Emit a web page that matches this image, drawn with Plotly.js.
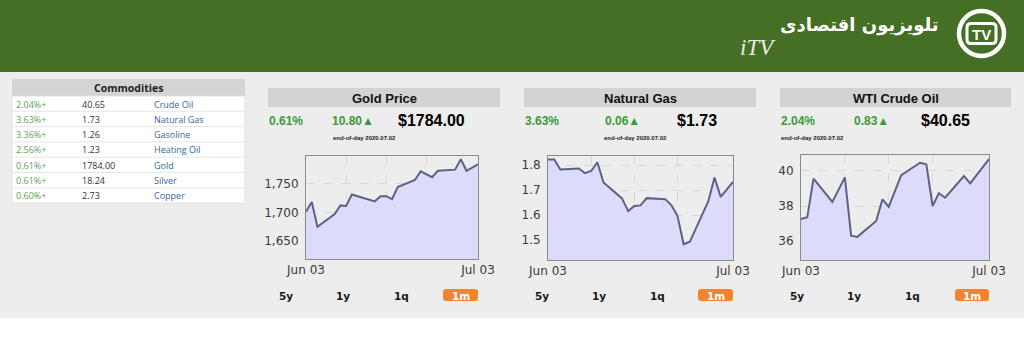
<!DOCTYPE html>
<html><head><meta charset="utf-8">
<script src="https://cdn.plot.ly/plotly-3.0.1.min.js"></script>
<style>html,body{margin:0;padding:0;background:#fff;}#chart{width:1024px;height:353px;}</style>
</head><body><div id="chart"></div>
<script>
// ---------- data ----------
const commodityChanges = ['2.04%+','3.63%+','3.36%+','2.56%+','0.61%+','0.61%+','0.60%+'];
const commodityPrices = ['40.65','1.73','1.26','1.23','1784.00','18.24','2.73'];
const commodityNames = ['Crude Oil','Natural Gas','Gasoline','Heating Oil','Gold','Silver','Copper'];

const panelTitles = ['Gold Price','Natural Gas','WTI Crude Oil'];
const panelPct = ['0.61%','3.63%','2.04%'];
const panelChange = ['10.80▲','0.06▲','0.83▲'];
const panelPrice = ['$1784.00','$1.73','$40.65'];
const eodLabel = 'end-of-day 2020.07.02';
const rangeButtons = ['5y','1y','1q','1m'];
const xTickText = ['Jun 03','Jul 03'];
const xTickDates = ['2020-06-03','2020-07-03'];
const weekGridDates = ['2020-06-10','2020-06-17','2020-06-24'];

const goldDates = ['2020-06-03','2020-06-04','2020-06-05','2020-06-08','2020-06-09','2020-06-10','2020-06-11','2020-06-15','2020-06-16','2020-06-17','2020-06-18','2020-06-19','2020-06-22','2020-06-23','2020-06-25','2020-06-26','2020-06-29','2020-06-30','2020-07-01','2020-07-03'];
const goldValues = [1701,1718,1675,1697,1712,1711,1731,1719,1728,1728,1723,1744,1756,1771,1761,1772,1774,1792,1772,1783];
const goldTicks = [1650,1700,1750];

const gasDates = ['2020-06-03','2020-06-04','2020-06-05','2020-06-08','2020-06-09','2020-06-10','2020-06-11','2020-06-12','2020-06-15','2020-06-16','2020-06-17','2020-06-18','2020-06-19','2020-06-22','2020-06-23','2020-06-24','2020-06-25','2020-06-26','2020-06-29','2020-06-30','2020-07-01','2020-07-03'];
const gasValues = [1.823,1.823,1.783,1.787,1.768,1.777,1.812,1.731,1.667,1.616,1.637,1.639,1.668,1.664,1.640,1.596,1.483,1.493,1.656,1.751,1.673,1.733];
const gasTicks = [1.5,1.6,1.7,1.8];

const oilDates = ['2020-06-03','2020-06-04','2020-06-05','2020-06-08','2020-06-10','2020-06-11','2020-06-12','2020-06-15','2020-06-16','2020-06-17','2020-06-19','2020-06-22','2020-06-23','2020-06-24','2020-06-25','2020-06-26','2020-06-29','2020-06-30','2020-07-03'];
const oilValues = [37.26,37.36,39.55,38.23,39.62,36.32,36.25,37.15,38.38,37.96,39.75,40.45,40.36,38.00,38.72,38.47,39.70,39.28,40.66];
const oilTicks = [36,38,40];

// ---------- helpers (layout positions in pixels -> paper) ----------
const W = 1024, H = 353;
const X = p => p / W;
const Y = p => 1 - p / H;
function rect(x0,y0,x1,y1,fill,line){
  return {type:'rect',xref:'paper',yref:'paper',x0:X(x0),x1:X(x1),y0:Y(y1),y1:Y(y0),
    fillcolor:fill,line:line||{width:0},layer:'below'};
}
function hline(x0,x1,y,color){
  return {type:'line',xref:'paper',yref:'paper',x0:X(x0),x1:X(x1),y0:Y(y),y1:Y(y),line:{color:color,width:1},layer:'below'};
}
function roundRect(x0,y0,x1,y1,r,fill,line){
  const p=(x,y)=>X(x)+','+Y(y);
  const d='M'+p(x0+r,y0)+' L'+p(x1-r,y0)+' Q'+p(x1,y0)+' '+p(x1,y0+r)+' L'+p(x1,y1-r)+' Q'+p(x1,y1)+' '+p(x1-r,y1)+
    ' L'+p(x0+r,y1)+' Q'+p(x0,y1)+' '+p(x0,y1-r)+' L'+p(x0,y0+r)+' Q'+p(x0,y0)+' '+p(x0+r,y0)+' Z';
  return {type:'path',xref:'paper',yref:'paper',path:d,fillcolor:fill,line:line||{width:0},layer:'above'};
}
function txt(text,x,y,anchor,font){
  return {text:text,x:X(x),y:Y(y),xref:'paper',yref:'paper',xanchor:anchor,yanchor:'middle',
    showarrow:false,borderpad:0,font:font};
}

const shapes = [];
const annotations = [];

// backgrounds
shapes.push(rect(0,0,1024,72,'#446f24'));
shapes.push(rect(0,72,1024,318,'#ededed'));

// logo
shapes.push({type:'circle',xref:'paper',yref:'paper',x0:X(959),x1:X(1004),y0:Y(56),y1:Y(11),
  line:{color:'#ffffff',width:4.5},fillcolor:'rgba(0,0,0,0)',layer:'above'});
shapes.push(roundRect(967,23.5,996,43.5,4,'rgba(0,0,0,0)',{color:'#ffffff',width:3}));
annotations.push(txt('TV',981.5,34,'center',{family:'Liberation Sans',size:15,color:'#ffffff',weight:'bold'}));
annotations.push(txt('<b>تلویزیون اقتصادی</b>',940,25,'right',{family:'DejaVu Sans',size:18,color:'#ffffff'}));
annotations.push(txt('<i>iTV</i>',739,47,'left',{family:'Liberation Serif',size:23,color:'#e9ede6'}));

// commodities table
shapes.push(rect(12,79,245,96,'#d4d4d4'));
shapes.push(rect(12,96,245,203,'#ffffff',{color:'#e2e2e2',width:1}));
annotations.push(txt('<b>Commodities</b>',128,88,'center',{family:'Open Sans',size:10.5,color:'#222'}));
const rowH = 15.3;
for (let i=0;i<commodityNames.length;i++){
  const yc = 104 + i*rowH;
  if (i>0) shapes.push(hline(12,245,96+i*rowH,'#e6e6e6'));
  annotations.push(txt(commodityChanges[i],15,yc,'left',{family:'Open Sans',size:9,color:'#5aa35a'}));
  annotations.push(txt(commodityPrices[i],81,yc,'left',{family:'Open Sans',size:9,color:'#333'}));
  annotations.push(txt(commodityNames[i],153,yc,'left',{family:'Open Sans',size:9,color:'#35679c'}));
}

// panels
const panelPos = [
  {box:[268,500], pct:268, chg:331, price:397, eod:332, btn:[286,343,401,460.5], btnBox:[443,478]},
  {box:[524,756], pct:524, chg:604, price:676, eod:603, btn:[542,599,657,715.5], btnBox:[698,733]},
  {box:[780,1011], pct:780, chg:853, price:920, eod:780, btn:[797,854,912,972], btnBox:[955,989]}
];
const green = '#3a9a3a';
panelPos.forEach((p,i)=>{
  shapes.push(rect(p.box[0],88,p.box[1],107,'#d3d3d3'));
  annotations.push(txt('<b>'+panelTitles[i]+'</b>',(p.box[0]+p.box[1])/2,98,'center',{family:'Liberation Sans',size:13,color:'#111'}));
  annotations.push(txt('<b>'+panelPct[i]+'</b>',p.pct,121,'left',{family:'Liberation Sans',size:12,color:green}));
  annotations.push(txt('<b>'+panelChange[i]+'</b>',p.chg,121,'left',{family:'Liberation Sans',size:12,color:green}));
  annotations.push(txt('<b>'+panelPrice[i]+'</b>',p.price,121,'left',{family:'Liberation Sans',size:16,color:'#000'}));
  annotations.push(txt('<b>'+eodLabel+'</b>',p.eod,138,'left',{family:'Liberation Sans',size:6,color:'#222'}));
  shapes.push(roundRect(p.btnBox[0],289,p.btnBox[1],301,3,'#f5822c'));
  rangeButtons.forEach((b,j)=>{
    annotations.push(txt('<b>'+b+'</b>',p.btn[j],295.5,'center',{family:'DejaVu Sans',size:10.5,color: j===3?'#ffffff':'#1a1a1a'}));
  });
});

// ---------- charts ----------
const lineStyle = {color:'#5c6284',width:2};
const fillCol = 'rgb(220,220,250)';
function trace(xs,ys,n){
  return {type:'scatter',mode:'lines',x:xs,y:ys,xaxis:'x'+(n>1?n:''),yaxis:'y'+(n>1?n:''),
    fill:'tozeroy',fillcolor:fillCol,line:lineStyle,hoverinfo:'skip'};
}
const tickFont = {family:'DejaVu Sans',size:12,color:'#3a3a3a'};
function xax(x0,x1,n){
  return {domain:[X(x0),X(x1)],anchor:'y'+(n>1?n:''),type:'date',range:[xTickDates[0],xTickDates[1]],
    tickmode:'array',tickvals:xTickDates,ticktext:xTickText,showgrid:false,
    showline:true,mirror:true,linecolor:'#8a8a8a',linewidth:1,ticks:'',tickfont:tickFont,zeroline:false,
    minor:{tickmode:'array',tickvals:weekGridDates,showgrid:true,gridcolor:'#d8d8d8',griddash:'dash',gridwidth:1,ticks:''},
    fixedrange:true};
}
function yax(top,bot,range,ticks,fmt,n){
  return {domain:[Y(bot),Y(top)],anchor:'x'+(n>1?n:''),range:range,tickmode:'array',tickvals:ticks,tickformat:fmt,
    showgrid:true,gridcolor:'#d8d8d8',griddash:'dash',gridwidth:1,zeroline:false,
    showline:true,mirror:true,linecolor:'#8a8a8a',linewidth:1,ticks:'',ticklabelstandoff:4,tickfont:tickFont,
    fixedrange:true};
}

const data = [
  trace(goldDates,goldValues,1),
  trace(gasDates,gasValues,2),
  trace(oilDates,oilValues,3)
];

const layout = {
  width:W,height:H,margin:{l:0,r:0,t:0,b:0},
  paper_bgcolor:'#ffffff',plot_bgcolor:'#ffffff',showlegend:false,
  separators:'.,',
  xaxis:xax(306,478,1),
  yaxis:yax(156,259,[1619,1797.7],goldTicks,',d',1),
  xaxis2:xax(548,733,2),
  yaxis2:yax(156,260,[1.42,1.837],gasTicks,'.1f',2),
  xaxis3:xax(801,989,3),
  yaxis3:yax(155,260,[34.94,40.89],oilTicks,'d',3),
  shapes:shapes,annotations:annotations
};

Plotly.newPlot('chart',data,layout,{staticPlot:true,displayModeBar:false});
</script></body></html>
